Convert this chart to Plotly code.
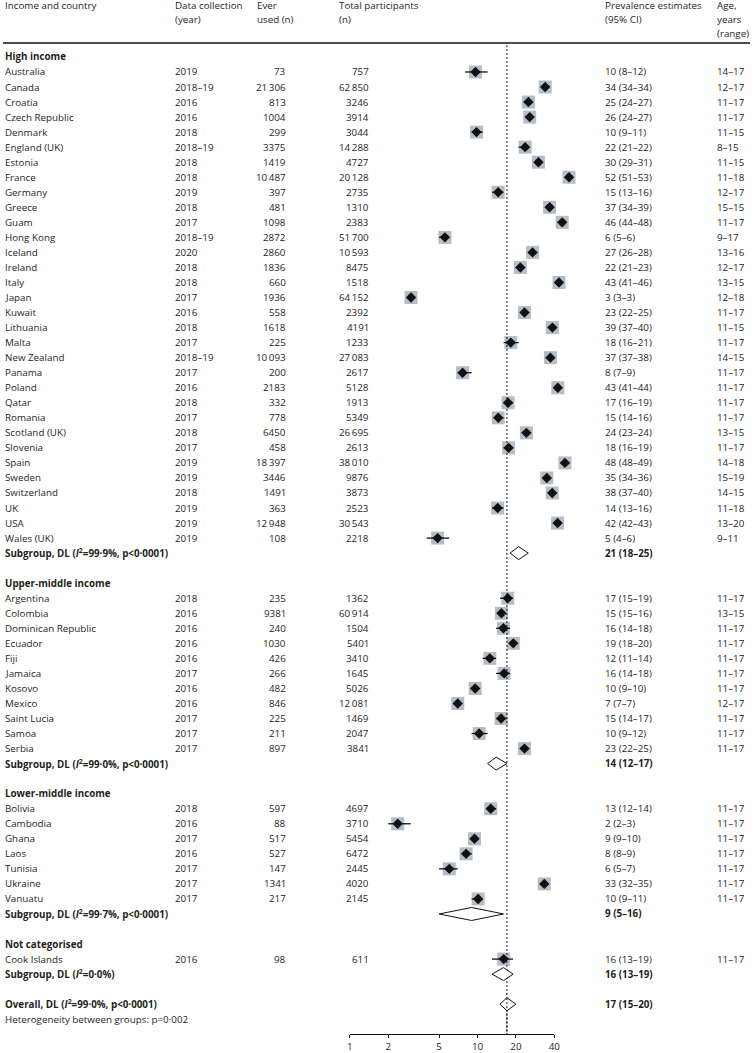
import math
import plotly.graph_objects as go

W, H = 756, 1053

# ---------------- data ----------------
groups = ["High income", "Upper-middle income", "Lower-middle income", "Not categorised"]
group_sizes = [32, 11, 7, 1]

countries = [
    "Australia", "Canada", "Croatia", "Czech Republic", "Denmark", "England (UK)", "Estonia", "France",
    "Germany", "Greece", "Guam", "Hong Kong", "Iceland", "Ireland", "Italy", "Japan", "Kuwait",
    "Lithuania", "Malta", "New Zealand", "Panama", "Poland", "Qatar", "Romania", "Scotland (UK)",
    "Slovenia", "Spain", "Sweden", "Switzerland", "UK", "USA", "Wales (UK)",
    "Argentina", "Colombia", "Dominican Republic", "Ecuador", "Fiji", "Jamaica", "Kosovo", "Mexico",
    "Saint Lucia", "Samoa", "Serbia",
    "Bolivia", "Cambodia", "Ghana", "Laos", "Tunisia", "Ukraine", "Vanuatu",
    "Cook Islands",
]
years = [
    "2019", "2018–19", "2016", "2016", "2018", "2018–19", "2018", "2018", "2019", "2018", "2017",
    "2018–19", "2020", "2018", "2018", "2017", "2016", "2018", "2017", "2018–19", "2017", "2016",
    "2018", "2017", "2018", "2017", "2019", "2019", "2018", "2019", "2019", "2019",
    "2018", "2016", "2016", "2016", "2016", "2017", "2016", "2016", "2017", "2017", "2017",
    "2018", "2016", "2017", "2016", "2017", "2017", "2017",
    "2016",
]
ever_used = [
    73, 21306, 813, 1004, 299, 3375, 1419, 10487, 397, 481, 1098, 2872, 2860, 1836, 660, 1936, 558,
    1618, 225, 10093, 200, 2183, 332, 778, 6450, 458, 18397, 3446, 1491, 363, 12948, 108,
    235, 9381, 240, 1030, 426, 266, 482, 846, 225, 211, 897,
    597, 88, 517, 527, 147, 1341, 217,
    98,
]
total_n = [
    757, 62850, 3246, 3914, 3044, 14288, 4727, 20128, 2735, 1310, 2383, 51700, 10593, 8475, 1518,
    64152, 2392, 4191, 1233, 27083, 2617, 5128, 1913, 5349, 26695, 2613, 38010, 9876, 3873, 2523,
    30543, 2218,
    1362, 60914, 1504, 5401, 3410, 1645, 5026, 12081, 1469, 2047, 3841,
    4697, 3710, 5454, 6472, 2445, 4020, 2145,
    611,
]
est = [
    10, 34, 25, 26, 10, 22, 30, 52, 15, 37, 46, 6, 27, 22, 43, 3, 23, 39, 18, 37, 8, 43, 17, 15, 24,
    18, 48, 35, 38, 14, 42, 5,
    17, 15, 16, 19, 12, 16, 10, 7, 15, 10, 23,
    13, 2, 9, 8, 6, 33, 10,
    16,
]
ci_lo = [
    8, 34, 24, 24, 9, 21, 29, 51, 13, 34, 44, 5, 26, 21, 41, 3, 22, 37, 16, 37, 7, 41, 16, 14, 23,
    16, 48, 34, 37, 13, 42, 4,
    15, 15, 14, 18, 11, 14, 9, 7, 14, 9, 22,
    12, 2, 9, 8, 5, 32, 9,
    13,
]
ci_hi = [
    12, 34, 27, 27, 11, 22, 31, 53, 16, 39, 48, 6, 28, 23, 46, 3, 25, 40, 21, 38, 9, 44, 19, 16, 24,
    19, 49, 36, 40, 16, 43, 6,
    19, 16, 18, 20, 14, 18, 10, 7, 17, 12, 25,
    14, 3, 10, 9, 7, 35, 11,
    19,
]
ages = [
    "14–17", "12–17", "11–17", "11–17", "11–15", "8–15", "11–15", "11–18", "12–17", "15–15", "11–17",
    "9–17", "13–16", "12–17", "13–15", "12–18", "11–17", "11–15", "11–17", "14–15", "11–17", "11–17",
    "11–17", "11–17", "13–15", "11–17", "14–18", "15–19", "14–15", "11–18", "13–20", "9–11",
    "11–17", "13–15", "11–17", "11–17", "11–17", "11–17", "11–17", "12–17", "11–17", "11–17", "11–17",
    "11–17", "11–17", "11–17", "11–17", "11–17", "11–17", "11–17",
    "11–17",
]
subgroup_labels = [
    "Subgroup, DL (<i>I</i><sup>2</sup>=99·9%, p<0·0001)",
    "Subgroup, DL (<i>I</i><sup>2</sup>=99·0%, p<0·0001)",
    "Subgroup, DL (<i>I</i><sup>2</sup>=99·7%, p<0·0001)",
    "Subgroup, DL (<i>I</i><sup>2</sup>=0·0%)",
]
subgroup_est = [21, 14, 9, 16]
subgroup_lo = [18, 12, 5, 13]
subgroup_hi = [25, 17, 16, 19]
overall_label = "Overall, DL (<i>I</i><sup>2</sup>=99·0%, p<0·0001)"
overall_est, overall_lo, overall_hi = 17, 15, 20
heterogeneity_note = "Heterogeneity between groups: p=0·002"
tick_values = [1, 2, 5, 10, 20, 40]

# ---------------- layout constants ----------------
FONT = "Open Sans"
FS = 9.8
TXT = "#231f20"
SQUARE = "#b4bec8"
Y0, STEP = 57.0, 15.05
X_ONE, X_FORTY = 351.0, 558.0
PPD = (X_FORTY - X_ONE) / math.log10(40)
COL_COUNTRY, COL_YEAR, COL_EVER_R, COL_TOTAL_R, COL_PREV, COL_AGE = 1, 173, 287, 371, 608, 722


def fmt(n):
    s = str(n)
    if n >= 10000:
        s = s[:-3] + "\u2009" + s[-3:]
    return s


def ypos(i):
    return Y0 + STEP * i


annotations = []


def add_text(xpx, y, text, anchor="left", bold=False, size=FS):
    if bold:
        text = "<b>" + text + "</b>"
    annotations.append(dict(
        x=xpx / W, xref="paper", y=y, yref="y", text=text, showarrow=False,
        xanchor=anchor, yanchor="middle", align=anchor,
        font=dict(family=FONT, size=size, color=TXT), borderpad=0,
    ))


# headers
hdr = [(COL_COUNTRY, ["Income and country"]), (COL_YEAR, ["Data collection", "(year)"]),
       (256, ["Ever", "used (n)"]), (339, ["Total participants", "(n)"]),
       (COL_PREV, ["Prevalence estimates", "(95% CI)"]), (COL_AGE, ["Age,", "years", "(range)"])]
for xpx, lines in hdr:
    for k, line in enumerate(lines):
        add_text(xpx, 6 + 14 * k, line)

# rows
pt_x, pt_y, ci_x, ci_y = [], [], [], []
dia_x, dia_y = [], []
row = 0
ci = 0
for g, (gname, gsize) in enumerate(zip(groups, group_sizes)):
    add_text(COL_COUNTRY, ypos(row), gname, bold=True)
    row += 1
    for _ in range(gsize):
        y = ypos(row)
        add_text(COL_COUNTRY, y, countries[ci])
        add_text(COL_YEAR, y, years[ci])
        add_text(COL_EVER_R, y, fmt(ever_used[ci]), anchor="right")
        add_text(COL_TOTAL_R, y, fmt(total_n[ci]), anchor="right")
        add_text(COL_PREV, y, f"{est[ci]} ({ci_lo[ci]}–{ci_hi[ci]})")
        add_text(COL_AGE, y, ages[ci])
        pt_x.append(100.0 * ever_used[ci] / total_n[ci])
        pt_y.append(y)
        ci_x += [ci_lo[ci], ci_hi[ci], None]
        ci_y += [y, y, None]
        ci += 1
        row += 1
    y = ypos(row)
    add_text(COL_COUNTRY, y, subgroup_labels[g], bold=True)
    add_text(COL_PREV, y, f"{subgroup_est[g]} ({subgroup_lo[g]}–{subgroup_hi[g]})", bold=True)
    dia_x += [subgroup_lo[g], subgroup_est[g], subgroup_hi[g], subgroup_est[g], subgroup_lo[g], None]
    dia_y += [y, y - 6.5, y, y + 6.5, y, None]
    row += 2

y = ypos(row)
add_text(COL_COUNTRY, y, overall_label, bold=True)
add_text(COL_PREV, y, f"{overall_est} ({overall_lo}–{overall_hi})", bold=True)
dia_x += [overall_lo, overall_est, overall_hi, overall_est, overall_lo]
dia_y += [y, y - 6.5, y, y + 6.5, y]
row += 1
add_text(COL_COUNTRY, ypos(row), heterogeneity_note)

AXIS_Y = 1035.0

fig = go.Figure()
# weight squares
fig.add_trace(go.Scatter(x=pt_x, y=pt_y, mode="markers", hoverinfo="skip",
                         marker=dict(symbol="square", size=13, color=SQUARE, line=dict(width=0))))
# CI lines
fig.add_trace(go.Scatter(x=ci_x, y=ci_y, mode="lines", hoverinfo="skip",
                         line=dict(color="#111111", width=1.3)))
# point estimates
fig.add_trace(go.Scatter(x=pt_x, y=pt_y, mode="markers", hoverinfo="skip",
                         marker=dict(symbol="diamond", size=8, color="#111111", line=dict(width=0))))
# dashed overall line
fig.add_trace(go.Scatter(x=[overall_est, overall_est], y=[45, AXIS_Y], mode="lines", hoverinfo="skip",
                         line=dict(color="#111111", width=1, dash="2px,2px")))
# subgroup / overall diamonds
fig.add_trace(go.Scatter(x=dia_x, y=dia_y, mode="lines", fill="toself", fillcolor="white",
                         hoverinfo="skip", line=dict(color="#111111", width=1)))
# redraw dashed line inside overall diamond (drawn above fill)
fig.add_trace(go.Scatter(x=[overall_est, overall_est], y=[ypos(row - 1) - 6, AXIS_Y], mode="lines",
                         hoverinfo="skip", line=dict(color="#111111", width=1, dash="2px,2px")))
# axis helper trace
fig.add_trace(go.Scatter(x=[1, 40], y=[0, 0], xaxis="x2", yaxis="y2", mode="markers",
                         marker=dict(opacity=0), hoverinfo="skip"))

fig.update_layout(
    width=W, height=H, margin=dict(l=0, r=0, t=0, b=0),
    paper_bgcolor="white", plot_bgcolor="rgba(0,0,0,0)", showlegend=False,
    hovermode=False,
    xaxis=dict(type="log", domain=[0, 1], range=[-X_ONE / PPD, (W - X_ONE) / PPD], visible=False,
               fixedrange=True),
    yaxis=dict(range=[H, 0], domain=[0, 1], visible=False, fixedrange=True),
    xaxis2=dict(type="log", domain=[X_ONE / W, X_FORTY / W], range=[0, math.log10(40)],
                anchor="y2", tickvals=tick_values, ticktext=[str(v) for v in tick_values],
                ticks="outside", ticklen=3, tickwidth=1, tickcolor="#111111", showline=True,
                linecolor="#111111", linewidth=1, showgrid=False, zeroline=False, fixedrange=True,
                tickfont=dict(family=FONT, size=9.8, color=TXT)),
    yaxis2=dict(domain=[(H - AXIS_Y) / H, (H - AXIS_Y + 5) / H], visible=False, range=[0, 1],
                fixedrange=True),
    annotations=annotations,
    shapes=[dict(type="line", xref="paper", x0=0, x1=1, yref="y", y0=43, y1=43,
                 line=dict(color="#111111", width=1.5))],
)

fig.write_html(
    "out.html",
    config={"displayModeBar": False, "staticPlot": True},
    post_script="document.body.style.margin='0';document.body.style.padding='0';"
                "document.body.style.overflow='hidden';",
)
